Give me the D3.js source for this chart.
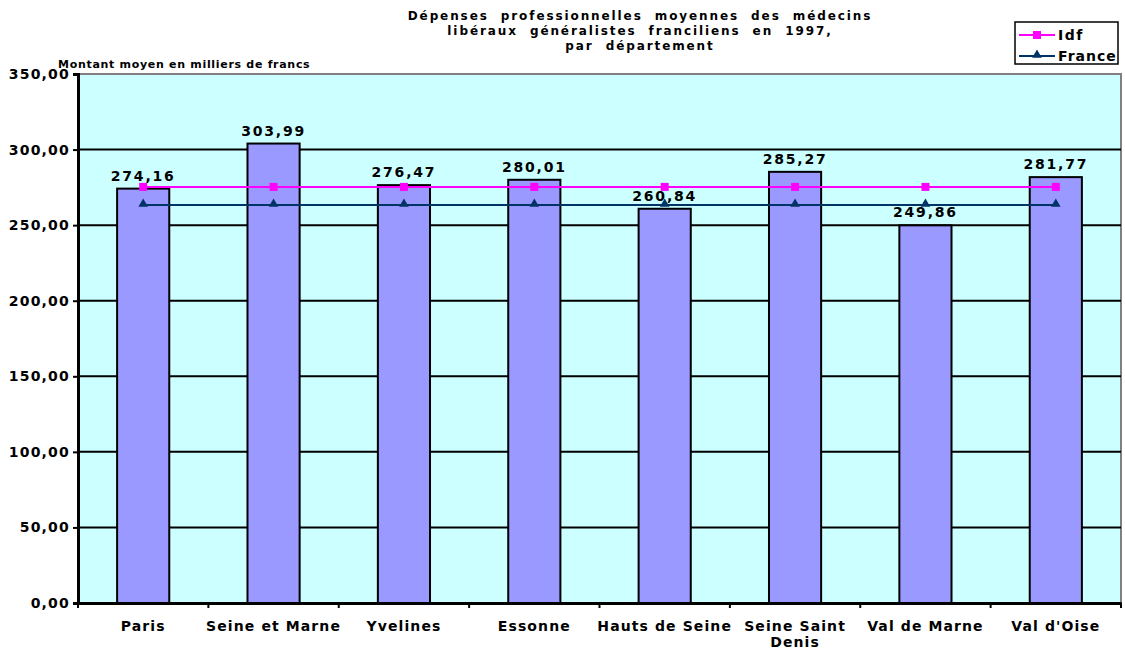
<!DOCTYPE html>
<html><head><meta charset="utf-8">
<script src="https://cdn.jsdelivr.net/npm/d3@7"></script>
<style>
body{margin:0;background:#fff;}
text{font-family:"DejaVu Sans",sans-serif;font-weight:bold;fill:#000;}
</style></head>
<body><svg id="c" width="1125" height="650"></svg>
<script>
const categories = ["Paris","Seine et Marne","Yvelines","Essonne","Hauts de Seine","Seine Saint Denis","Val de Marne","Val d'Oise"];
const values = [274.16,303.99,276.47,280.01,260.84,285.27,249.86,281.77];
const idf = [275.3,275.3,275.3,275.3,275.3,275.3,275.3,275.3];
const france = [263.3,263.3,263.3,263.3,263.3,263.3,263.3,263.3];
const yTicks = [0,50,100,150,200,250,300,350];
const titleLines = ["Dépenses professionnelles moyennes des médecins","libéraux généralistes franciliens en 1997,","par département"];
const yAxisTitle = "Montant moyen en milliers de francs";

const svg = d3.select("#c");
const L=78,R=1121,T=74,B=603;
const x = d3.scaleBand().domain(categories).range([L,R]).paddingInner(0).paddingOuter(0);
const y = d3.scaleLinear().domain([0,350]).range([B,T]);
const fmt = v => d3.format(".2f")(v).replace(".",",");

svg.append("rect").attr("x",L).attr("y",T).attr("width",R-L).attr("height",B-T).attr("fill","#CCFFFF");
svg.append("path").attr("d",`M${L},${T}H${R}V${B}`).attr("fill","none").attr("stroke","#808080").attr("stroke-width",2);
svg.append("g").selectAll("line").data(yTicks.filter(t=>t>0&&t<350)).join("line")
  .attr("x1",L).attr("x2",R).attr("y1",d=>y(d)).attr("y2",d=>y(d)).attr("stroke","#000").attr("stroke-width",2);
const bw = x.bandwidth()*0.4;
svg.append("g").selectAll("rect").data(values).join("rect")
  .attr("x",(d,i)=>x(categories[i])+x.bandwidth()/2-bw/2).attr("width",bw)
  .attr("y",d=>y(d)).attr("height",d=>B-y(d))
  .attr("fill","#9999FF").attr("stroke","#000").attr("stroke-width",2);
const ya = svg.append("g").attr("transform",`translate(${L},0)`).call(d3.axisLeft(y).tickValues(yTicks).tickFormat(fmt).tickSize(5));
ya.select(".domain").attr("stroke","#000").attr("stroke-width",3);
ya.selectAll(".tick line").attr("stroke","#000").attr("stroke-width",2);
ya.selectAll("text").attr("font-size",14).attr("x",-8).attr("letter-spacing",1.2).style("font-family","DejaVu Sans").style("font-weight","bold");
const xa = svg.append("g").attr("transform",`translate(0,${B})`).call(d3.axisBottom(x).tickSize(0).tickFormat(""));
xa.select(".domain").attr("stroke","#000").attr("stroke-width",3);
svg.append("g").selectAll("line").data(d3.range(categories.length+1)).join("line")
  .attr("x1",i=>L+i*x.step()).attr("x2",i=>L+i*x.step()).attr("y1",B).attr("y2",B+5).attr("stroke","#000").attr("stroke-width",2);
const wrap = {"Seine Saint Denis":["Seine Saint","Denis"]};
const xl = svg.append("g").selectAll("text").data(categories).join("text")
  .attr("text-anchor","middle").attr("font-size",14).attr("letter-spacing",1.1);
xl.each(function(d){
  const lines = wrap[d]||[d];
  d3.select(this).selectAll("tspan").data(lines).join("tspan")
    .attr("x",x(d)+x.bandwidth()/2).attr("y",(l,j)=>631+j*16).text(l=>l);
});
const lineGen = arr => d3.line().x((d,i)=>x(categories[i])+x.bandwidth()/2).y(d=>y(d))(arr);
svg.append("path").attr("d",lineGen(idf)).attr("fill","none").attr("stroke","#FF00FF").attr("stroke-width",2);
svg.append("path").attr("d",lineGen(france)).attr("fill","none").attr("stroke","#003366").attr("stroke-width",2);
svg.append("g").selectAll("rect").data(idf).join("rect")
  .attr("x",(d,i)=>x(categories[i])+x.bandwidth()/2-4).attr("y",d=>y(d)-4).attr("width",8).attr("height",8).attr("fill","#FF00FF");
const tri = d3.symbol().type(d3.symbolTriangle).size(40);
svg.append("g").selectAll("path").data(france).join("path")
  .attr("transform",(d,i)=>`translate(${x(categories[i])+x.bandwidth()/2},${y(d)-1})`).attr("d",tri).attr("fill","#003366");
svg.append("g").selectAll("text").data(values).join("text")
  .attr("x",(d,i)=>x(categories[i])+x.bandwidth()/2).attr("y",d=>y(d)-8)
  .attr("text-anchor","middle").attr("font-size",14).attr("letter-spacing",1.8).text(fmt);
svg.append("g").selectAll("text").data(titleLines).join("text")
  .attr("x",640).attr("y",(d,i)=>20+i*15).attr("text-anchor","middle").attr("font-size",12)
  .attr("letter-spacing",1.9).attr("word-spacing",6).text(d=>d);
svg.append("text").attr("x",58).attr("y",68).attr("font-size",11).attr("letter-spacing",0.7).text(yAxisTitle);
const lg = svg.append("g");
lg.append("rect").attr("x",1015).attr("y",22).attr("width",103).attr("height",42).attr("fill","#fff").attr("stroke","#000").attr("stroke-width",1.5);
lg.append("line").attr("x1",1019).attr("x2",1055).attr("y1",35).attr("y2",35).attr("stroke","#FF00FF").attr("stroke-width",2);
lg.append("rect").attr("x",1033).attr("y",31).attr("width",8).attr("height",8).attr("fill","#FF00FF");
lg.append("line").attr("x1",1019).attr("x2",1055).attr("y1",56).attr("y2",56).attr("stroke","#003366").attr("stroke-width",2);
lg.append("path").attr("transform","translate(1037,55)").attr("d",tri).attr("fill","#003366");
lg.append("text").attr("x",1058).attr("y",40).attr("font-size",14).attr("letter-spacing",1.5).text("Idf");
lg.append("text").attr("x",1058).attr("y",61).attr("font-size",14).attr("letter-spacing",1).text("France");
</script></body></html>
